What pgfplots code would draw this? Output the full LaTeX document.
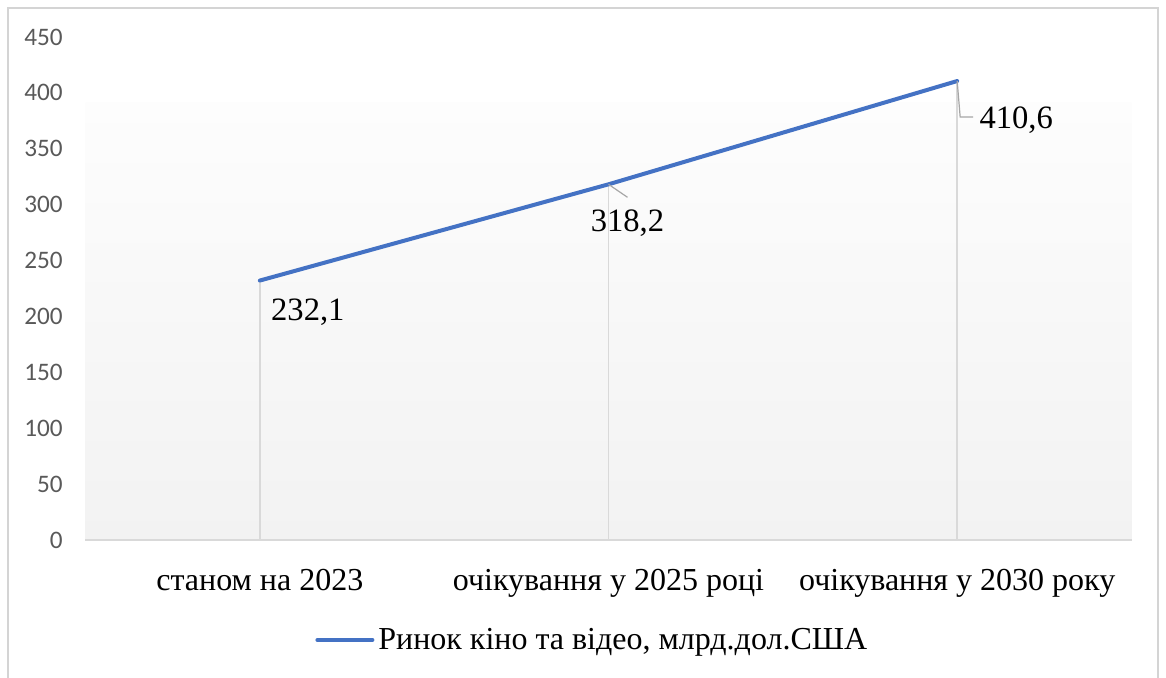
\documentclass[border=0pt]{standalone}
\usepackage{fontspec}
\setmainfont{Liberation Serif}
\newfontfamily\tickfont{Carlito}
\usepackage{pgfplots}
\pgfplotsset{compat=1.18}
\definecolor{lineblue}{HTML}{4472C4}
\definecolor{axgray}{HTML}{D9D9D9}
\definecolor{leadgray}{HTML}{A6A6A6}
\definecolor{ticktext}{HTML}{595959}
\definecolor{bgbottom}{HTML}{F2F2F2}
\definecolor{bgtop}{HTML}{FDFDFD}
\definecolor{framegray}{HTML}{D4D4D4}
\begin{document}
\begin{tikzpicture}
\path[use as bounding box] (0,0) rectangle (583pt,339pt);
\draw[framegray, line width=1pt] (4pt,-5pt) -- (4pt,335pt) -- (579pt,335pt) -- (579pt,-5pt);
\begin{axis}[
  at={(42.75pt,69pt)}, anchor=south west,
  scale only axis, width=523pt, height=251.5pt,
  xmin=-0.5, xmax=2.5, ymin=0, ymax=450,
  axis x line*=bottom, axis y line*=left,
  y axis line style={draw=none},
  x axis line style={draw=axgray, line width=1pt},
  major tick length=0pt,
  xtick={0,1,2},
  xticklabels={станом на 2023, очікування у 2025 році, очікування у 2030 року},
  xticklabel style={font=\fontsize{16}{16}\selectfont, anchor=base, yshift=-25.5pt, inner sep=0pt},
  ytick={0,50,...,450},
  /pgf/number format/assume math mode=true,
  yticklabel style={font=\tickfont\fontsize{12.6}{12.6}\selectfont, text=ticktext, anchor=east, inner sep=0pt, xshift=-11.25pt},
  clip=false,
  legend style={at={(0.2194,-0.1988)}, anchor=west, draw=none, fill=none, inner sep=0pt,
    font=\fontsize{16}{16}\selectfont},
  legend image code/.code={\draw[#1, line width=2pt] (0pt,0pt) -- (27.5pt,0pt);},
]
\fill[bottom color=bgbottom, top color=bgtop] (axis cs:-0.5,0) rectangle (axis cs:2.5,391);
\draw[axgray, line width=0.9pt] (axis cs:0,0) -- (axis cs:0,232.1);
\draw[axgray, line width=0.9pt] (axis cs:1,0) -- (axis cs:1,318.2);
\draw[axgray, line width=0.9pt] (axis cs:2,0) -- (axis cs:2,410.6);
\draw[axgray, line width=1pt] (axis cs:-0.5,0) -- (axis cs:2.5,0);
\addplot[lineblue, line width=2pt, line cap=round] coordinates {(0,232.1) (1,318.2) (2,410.6)};
\addlegendentry{Ринок кіно та відео, млрд.дол.США}
\draw[leadgray, line width=0.6pt] (axis cs:1,318.2) -- ++(9.5pt,-6.5pt);
\draw[leadgray, line width=0.6pt] (axis cs:2,410.6) -- ++(1.5pt,-18pt) -- ++(6.5pt,0pt);
\node[font=\fontsize{16.3}{16.3}\selectfont, inner sep=0pt, xshift=24pt, yshift=-16pt] at (axis cs:0,232.1) {232,1};
\node[font=\fontsize{16.3}{16.3}\selectfont, inner sep=0pt, xshift=9.5pt, yshift=-19.5pt] at (axis cs:1,318.2) {318,2};
\node[font=\fontsize{16.3}{16.3}\selectfont, inner sep=0pt, xshift=29.5pt, yshift=-19.5pt] at (axis cs:2,410.6) {410,6};
\end{axis}
\end{tikzpicture}
\end{document}
